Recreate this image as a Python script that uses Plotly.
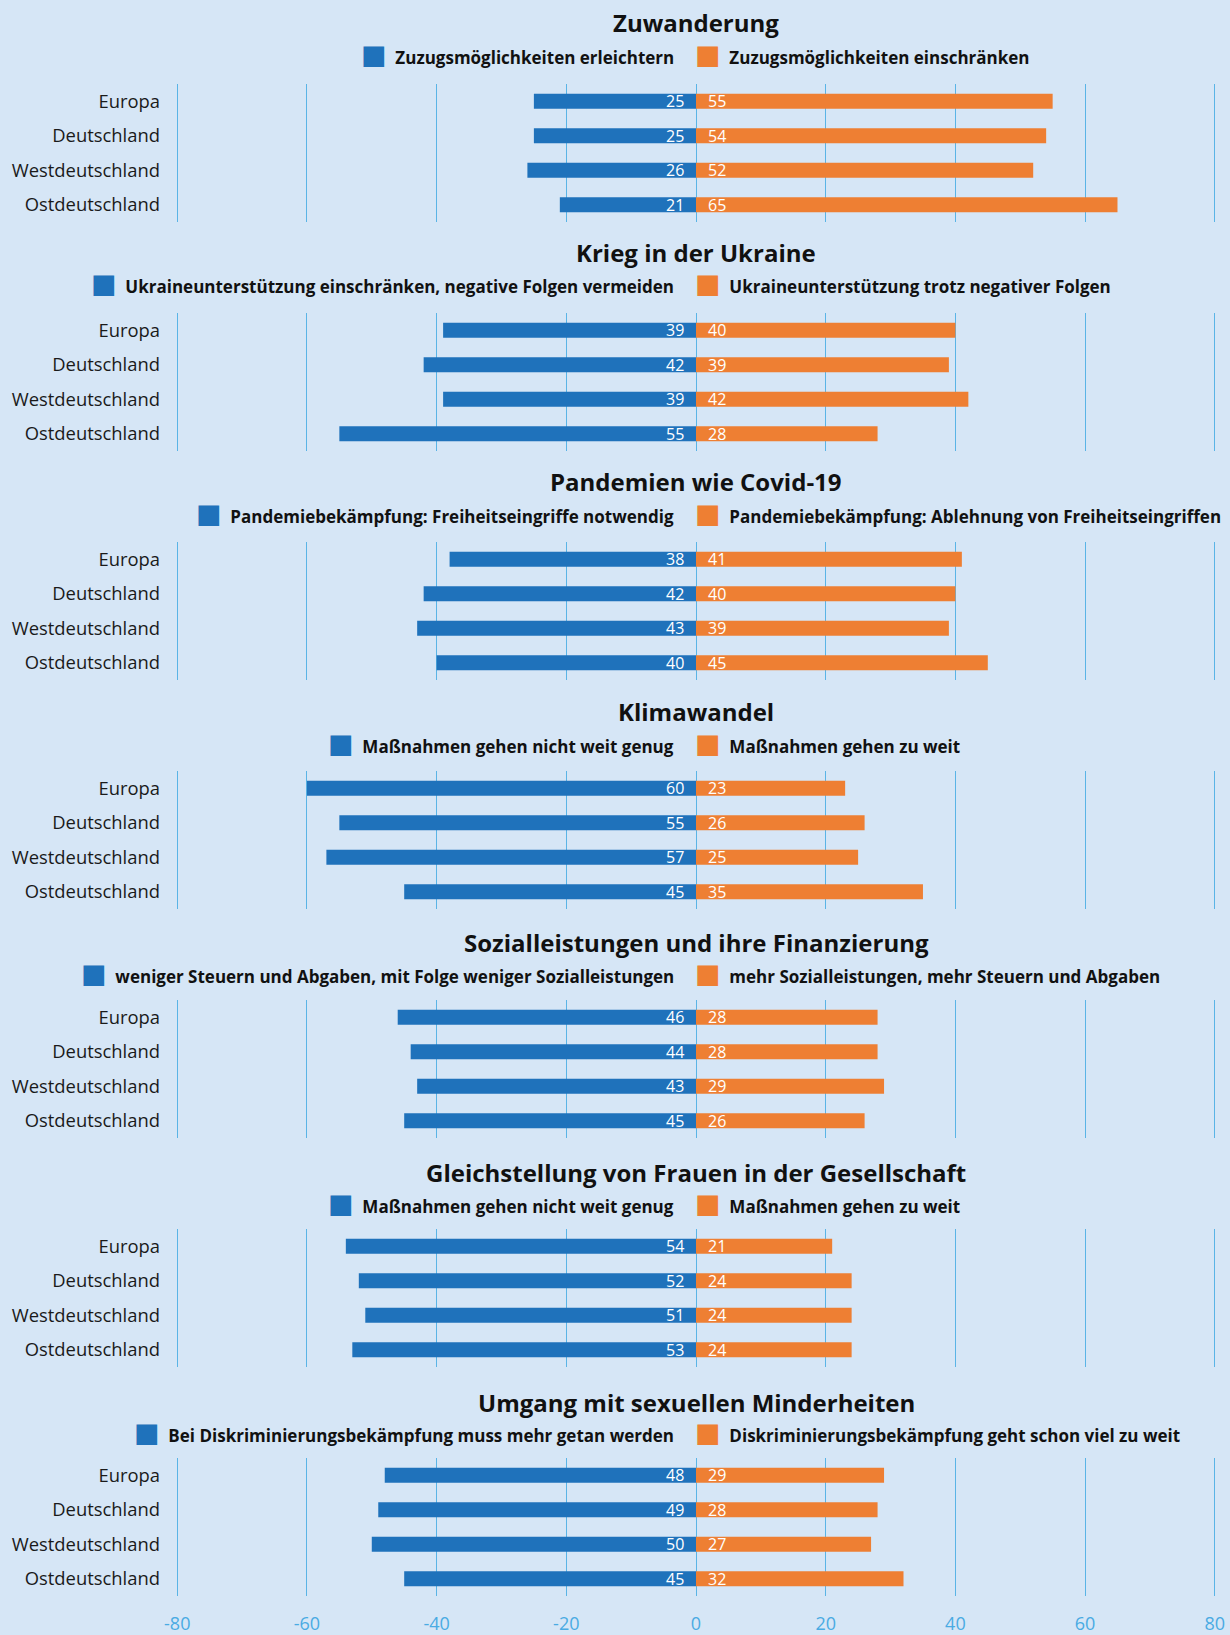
import plotly.graph_objects as go

regions = ["Europa", "Deutschland", "Westdeutschland", "Ostdeutschland"]

topics = [
    "Zuwanderung",
    "Krieg in der Ukraine",
    "Pandemien wie Covid-19",
    "Klimawandel",
    "Sozialleistungen und ihre Finanzierung",
    "Gleichstellung von Frauen in der Gesellschaft",
    "Umgang mit sexuellen Minderheiten",
]

left_labels = [
    "Zuzugsmöglichkeiten erleichtern",
    "Ukraineunterstützung einschränken, negative Folgen vermeiden",
    "Pandemiebekämpfung: Freiheitseingriffe notwendig",
    "Maßnahmen gehen nicht weit genug",
    "weniger Steuern und Abgaben, mit Folge weniger Sozialleistungen",
    "Maßnahmen gehen nicht weit genug",
    "Bei Diskriminierungsbekämpfung muss mehr getan werden",
]

right_labels = [
    "Zuzugsmöglichkeiten einschränken",
    "Ukraineunterstützung trotz negativer Folgen",
    "Pandemiebekämpfung: Ablehnung von Freiheitseingriffen",
    "Maßnahmen gehen zu weit",
    "mehr Sozialleistungen, mehr Steuern und Abgaben",
    "Maßnahmen gehen zu weit",
    "Diskriminierungsbekämpfung geht schon viel zu weit",
]

# Shares in percent per region (Europa, Deutschland, West, Ost)
left_values = [
    [25, 25, 26, 21],
    [39, 42, 39, 55],
    [38, 42, 43, 40],
    [60, 55, 57, 45],
    [46, 44, 43, 45],
    [54, 52, 51, 53],
    [48, 49, 50, 45],
]

right_values = [
    [55, 54, 52, 65],
    [40, 39, 42, 28],
    [41, 40, 39, 45],
    [23, 26, 25, 35],
    [28, 28, 29, 26],
    [21, 24, 24, 24],
    [29, 28, 27, 32],
]

x_ticks = [-80, -60, -40, -20, 0, 20, 40, 60, 80]

BLUE = "#1f72bb"
ORANGE = "#ee7f33"
BG = "#d6e6f6"
GRID = "#5ab4e6"
TICK = "#4aabe3"
FONT = "Open Sans"

W, H = 1230, 1635
ML, MR = 174, 12
PLOT_PERIOD, TITLE_PERIOD, LEGEND_PERIOD = 229.0, 230.0, 229.8
PLOT_TOP, PLOT_BOTTOM = 84, 222
TITLE_Y, LEGEND_Y = 22, 54


def py(px):
    """Convert a pixel row (from the top) to paper coordinates."""
    return 1 - px / H


fig = go.Figure()
annotations = []
n = len(topics)

for i in range(n):
    k = "" if i == 0 else str(i + 1)
    xa, ya = "x" + k, "y" + k
    off = PLOT_PERIOD * i

    fig.add_trace(go.Bar(
        y=regions, x=[-v for v in left_values[i]], orientation="h",
        marker=dict(color=BLUE, line=dict(width=0)), width=0.43,
        xaxis=xa, yaxis=ya, showlegend=False, hoverinfo="skip",
    ))
    fig.add_trace(go.Bar(
        y=regions, x=right_values[i], orientation="h",
        marker=dict(color=ORANGE, line=dict(width=0)), width=0.43,
        xaxis=xa, yaxis=ya, showlegend=False, hoverinfo="skip",
    ))

    # value labels next to the centre line
    for r, lv, rv in zip(regions, left_values[i], right_values[i]):
        annotations.append(dict(
            x=0, y=r, xref=xa, yref=ya, text=str(lv), showarrow=False,
            xanchor="right", xshift=-10,
            font=dict(family=FONT, size=16, color="white"),
        ))
        annotations.append(dict(
            x=0, y=r, xref=xa, yref=ya, text=str(rv), showarrow=False,
            xanchor="left", xshift=10,
            font=dict(family=FONT, size=16, color="white"),
        ))

    # panel title
    annotations.append(dict(
        x=0.5, y=py(TITLE_Y + TITLE_PERIOD * i), xref="paper", yref="paper",
        text="<b>%s</b>" % topics[i], showarrow=False,
        xanchor="center", yanchor="middle",
        font=dict(family=FONT, size=24, color="#111111"),
    ))

    # legend row, split at the centre line
    ly = py(LEGEND_Y + LEGEND_PERIOD * i)
    sq = '<span style="font-family:\'DejaVu Sans\';font-size:27px;color:%s">■</span>'
    annotations.append(dict(
        x=0, y=ly, xref=xa, yref="paper",
        text=(sq % BLUE) + "\u00a0\u00a0<b>%s</b>" % left_labels[i],
        showarrow=False, xanchor="right", yanchor="middle", xshift=-20,
        font=dict(family=FONT, size=17, color="#111111"),
    ))
    annotations.append(dict(
        x=0, y=ly, xref=xa, yref="paper",
        text=(sq % ORANGE) + "\u00a0\u00a0<b>%s</b>" % right_labels[i],
        showarrow=False, xanchor="left", yanchor="middle", xshift=-3,
        font=dict(family=FONT, size=17, color="#111111"),
    ))

    last = i == n - 1
    fig.layout["xaxis" + k] = dict(
        domain=[0, 1], anchor=ya, range=[-80.5, 80.5],
        tickvals=x_ticks, showticklabels=last,
        ticktext=[str(t) for t in x_ticks],
        showgrid=True, gridcolor=GRID, gridwidth=1,
        zeroline=True, zerolinecolor=GRID, zerolinewidth=1,
        showline=False, ticks="", ticklabelstandoff=15,
        tickfont=dict(family=FONT, size=18, color=TICK),
        fixedrange=True,
    )
    fig.layout["yaxis" + k] = dict(
        domain=[py(PLOT_BOTTOM + off), py(PLOT_TOP + off)], anchor=xa,
        categoryorder="array", categoryarray=regions, autorange="reversed",
        showgrid=False, zeroline=False, showline=False, ticks="",
        ticklabelstandoff=13,
        tickfont=dict(family=FONT, size=18.4, color="#1a1a1a"),
        fixedrange=True,
    )

fig.update_layout(
    width=W, height=H,
    margin=dict(l=ML, r=MR, t=0, b=0),
    paper_bgcolor=BG, plot_bgcolor=BG,
    barmode="relative", bargap=0.5,
    annotations=annotations,
    showlegend=False,
)

fig.write_html("out.html", config={"displayModeBar": False})
